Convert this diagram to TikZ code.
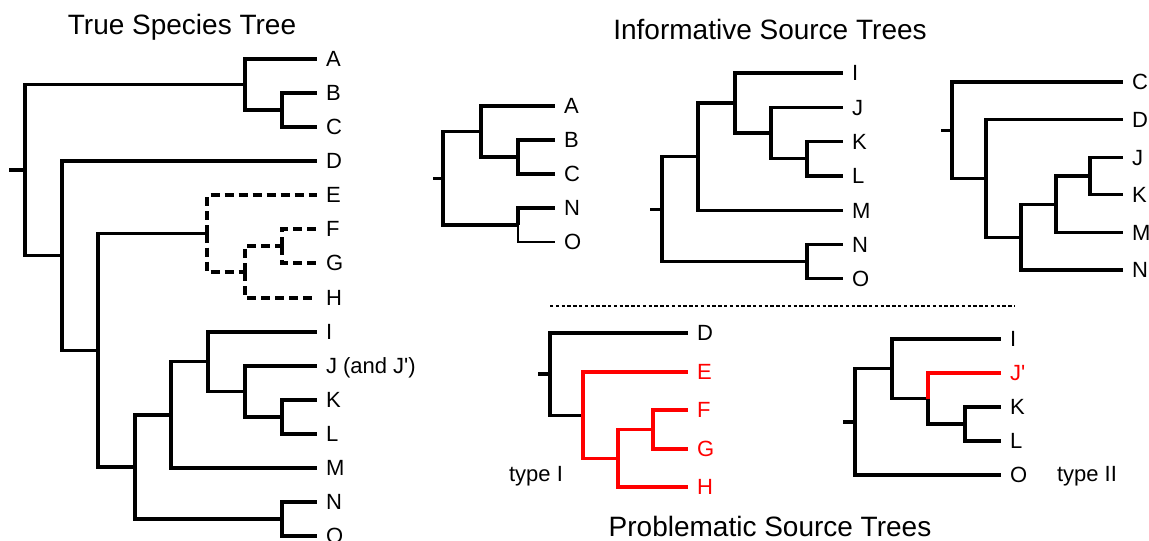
\documentclass[tikz,border=0pt]{standalone}
\usepackage{fontspec}
\setmainfont{Liberation Sans}
\usepackage{tikz}
\usetikzlibrary{calc}
\definecolor{lostred}{RGB}{255,0,0}
\tikzset{
    branch/.style = {line width=1.6pt},
    lost/.style = {branch, dash pattern=on 4.5pt off 2.5pt},
    misplaced/.style = {branch, draw=lostred},
    leaf/.style = {anchor=west, inner xsep=4.5pt, inner ysep=0pt, outer sep=0pt, text height=7.9pt, text depth=0pt, font=\fontsize{11}{13}\selectfont},
    redleaf/.style = {leaf, text=lostred},
    heading/.style = {anchor=base, inner sep=0pt, font=\fontsize{14}{16}\selectfont},
    tag/.style = {anchor=base, inner sep=0pt, font=\fontsize{11}{13}\selectfont},
    separator/.style = {line width=0.6pt, dash pattern=on 1.7pt off 1.2pt}
}

\begin{document}
\begin{tikzpicture}[x=0.5pt, y=-0.5pt]
\useasboundingbox (0,0) rectangle (1149,540);

% ---- True Species Tree (left) ----
\node[heading] (ttitle) at (182,35) {True Species Tree};
\node[leaf] (tA) at (317,59) {A};
\node[leaf] (tB) at (317,93) {B};
\node[leaf] (tC) at (317,127) {C};
\node[leaf] (tD) at (317,161) {D};
\node[leaf] (tE) at (317,195) {E};
\node[leaf] (tF) at (317,229) {F};
\node[leaf] (tG) at (317,263) {G};
\node[leaf] (tH) at (317,298) {H};
\node[leaf] (tI) at (317,332) {I};
\node[leaf] (tJ) at (317,366) {J (and J\textquotesingle)};
\node[leaf] (tK) at (317,400) {K};
\node[leaf] (tL) at (317,434) {L};
\node[leaf] (tM) at (317,468) {M};
\node[leaf] (tN) at (317,502) {N};
\node[leaf] (tO) at (317,536) {O};
\coordinate (tstub) at (9,170);
\coordinate (troot) at (25,170);
\coordinate (tabc) at (245,84.5);
\coordinate (tbc) at (282,110);
\coordinate (tdrest) at (62,255.6);
\coordinate (trest) at (98,350.2);
\coordinate (tefgh) at (207,233.5);
\coordinate (tfgh) at (245,272);
\coordinate (tfg) at (282,246);
\coordinate (tio) at (135,467);
\coordinate (tijklm) at (171,414.9);
\coordinate (tijkl) at (208,361.75);
\coordinate (tjkl) at (245,391.5);
\coordinate (tkl) at (282,417);
\coordinate (tno) at (282,519);

\draw[branch] (tstub) -- (troot);
\draw[branch] (troot) |- (tabc);
\draw[branch] (troot) |- (tdrest);
\draw[branch] (tabc) |- (tA);
\draw[branch] (tabc) |- (tbc);
\draw[branch] (tbc) |- (tB);
\draw[branch] (tbc) |- (tC);
\draw[branch] (tdrest) |- (tD);
\draw[branch] (tdrest) |- (trest);
\draw[branch] (trest) |- (tefgh);
\draw[branch] (trest) |- (tio);
\draw[lost] (tefgh) |- (tE);
\draw[lost] (tefgh) |- (tfgh);
\draw[lost] (tfgh) |- (tfg);
\draw[lost] (tfgh) |- (tH);
\draw[lost] (tfg) |- (tF);
\draw[lost] (tfg) |- (tG);
\draw[branch] (tio) |- (tijklm);
\draw[branch] (tio) |- (tno);
\draw[branch] (tijklm) |- (tijkl);
\draw[branch] (tijklm) |- (tM);
\draw[branch] (tijkl) |- (tI);
\draw[branch] (tijkl) |- (tjkl);
\draw[branch] (tjkl) |- (tJ);
\draw[branch] (tjkl) |- (tkl);
\draw[branch] (tkl) |- (tK);
\draw[branch] (tkl) |- (tL);
\draw[branch] (tno) |- (tN);
\draw[branch] (tno) |- (tO);

% ---- Informative Source Trees (top right) ----
\node[heading] (stitle) at (770,40) {Informative Source Trees};

% source tree 1
\node[leaf] (s1A) at (555,106) {A};
\node[leaf] (s1B) at (555,140) {B};
\node[leaf] (s1C) at (555,174) {C};
\node[leaf] (s1N) at (555,208) {N};
\node[leaf] (s1O) at (555,242) {O};
\coordinate (s1stub) at (433,178.25);
\coordinate (s1root) at (443,178.25);
\coordinate (s1abc) at (481,131.5);
\coordinate (s1bc) at (518,157);
\coordinate (s1no) at (518,225);
\draw[branch] (s1stub) -- (s1root);
\draw[branch] (s1root) |- (s1abc);
\draw[branch] (s1root) |- (s1no);
\draw[branch] (s1abc) |- (s1A);
\draw[branch] (s1abc) |- (s1bc);
\draw[branch] (s1bc) |- (s1B);
\draw[branch] (s1bc) |- (s1C);
\draw[branch] (s1no) |- (s1N);
\draw[line width=0.8pt] (s1no) |- (s1O);

% source tree 2
\node[leaf] (s2I) at (843,73) {I};
\node[leaf] (s2J) at (843,107.3) {J};
\node[leaf] (s2K) at (843,141.6) {K};
\node[leaf] (s2L) at (843,175.9) {L};
\node[leaf] (s2M) at (843,210.2) {M};
\node[leaf] (s2N) at (843,244.5) {N};
\node[leaf] (s2O) at (843,278.8) {O};
\coordinate (s2stub) at (650,209.1);
\coordinate (s2root) at (662,209.1);
\coordinate (s2ijklm) at (698,156.6);
\coordinate (s2ijkl) at (735,103);
\coordinate (s2jkl) at (771,133);
\coordinate (s2kl) at (807,158.75);
\coordinate (s2no) at (807,261.65);
\draw[branch] (s2stub) -- (s2root);
\draw[branch] (s2root) |- (s2ijklm);
\draw[branch] (s2root) |- (s2no);
\draw[branch] (s2ijklm) |- (s2ijkl);
\draw[branch] (s2ijklm) |- (s2M);
\draw[branch] (s2ijkl) |- (s2I);
\draw[branch] (s2ijkl) |- (s2jkl);
\draw[branch] (s2jkl) |- (s2J);
\draw[branch] (s2jkl) |- (s2kl);
\draw[branch] (s2kl) |- (s2K);
\draw[branch] (s2kl) |- (s2L);
\draw[branch] (s2no) |- (s2N);
\draw[branch] (s2no) |- (s2O);

% source tree 3
\node[leaf] (s3C) at (1123,82) {C};
\node[leaf] (s3D) at (1123,119.6) {D};
\node[leaf] (s3J) at (1123,157.2) {J};
\node[leaf] (s3K) at (1123,194.8) {K};
\node[leaf] (s3M) at (1123,232.4) {M};
\node[leaf] (s3N) at (1123,270) {N};
\coordinate (s3stub) at (941,130.2);
\coordinate (s3root) at (952,130.2);
\coordinate (s3dr) at (986,178.35);
\coordinate (s3jkmn) at (1021,237.1);
\coordinate (s3jkm) at (1056,204.2);
\coordinate (s3jk) at (1090,176);
\draw[branch] (s3stub) -- (s3root);
\draw[branch] (s3root) |- (s3C);
\draw[branch] (s3root) |- (s3dr);
\draw[branch] (s3dr) |- (s3D);
\draw[branch] (s3dr) |- (s3jkmn);
\draw[branch] (s3jkmn) |- (s3jkm);
\draw[branch] (s3jkmn) |- (s3N);
\draw[branch] (s3jkm) |- (s3jk);
\draw[branch] (s3jkm) |- (s3M);
\draw[branch] (s3jk) |- (s3J);
\draw[branch] (s3jk) |- (s3K);

% ---- Separator ----
\coordinate (sepL) at (550,306);
\coordinate (sepR) at (1015,306);
\draw[separator] (sepL) -- (sepR);

% ---- Problematic Source Trees (bottom right) ----
\node[heading] (ptitle) at (770,536) {Problematic Source Trees};

% type I
\node[tag] (p1tag) at (536,481) {type I};
\node[leaf] (p1D) at (688,333) {D};
\node[redleaf] (p1E) at (688,372) {E};
\node[redleaf] (p1F) at (688,410) {F};
\node[redleaf] (p1G) at (688,449) {G};
\node[redleaf] (p1H) at (688,487) {H};
\coordinate (p1stub) at (538,374);
\coordinate (p1root) at (550,374);
\coordinate (p1efgh) at (583,415.1);
\coordinate (p1fgh) at (618,458.25);
\coordinate (p1fg) at (653,429.5);
\draw[branch] (p1stub) -- (p1root);
\draw[branch] (p1root) |- (p1D);
\draw[branch] (p1root) |- (p1efgh);
\draw[misplaced] (p1efgh) |- (p1E);
\draw[misplaced] (p1efgh) |- (p1fgh);
\draw[misplaced] (p1fgh) |- (p1fg);
\draw[misplaced] (p1fgh) |- (p1H);
\draw[misplaced] (p1fg) |- (p1F);
\draw[misplaced] (p1fg) |- (p1G);

% type II
\node[tag] (p2tag) at (1087,481) {type II};
\node[leaf] (p2I) at (1001,339) {I};
\node[redleaf] (p2J) at (1001,373) {J\textquotesingle};
\node[leaf] (p2K) at (1001,407) {K};
\node[leaf] (p2L) at (1001,441) {L};
\node[leaf] (p2O) at (1001,475) {O};
\coordinate (p2stub) at (843,421.9);
\coordinate (p2root) at (855,421.9);
\coordinate (p2ijkl) at (892,368.75);
\coordinate (p2jkl) at (928,398.5);
\coordinate (p2kl) at (965,424);
\draw[branch] (p2stub) -- (p2root);
\draw[branch] (p2root) |- (p2ijkl);
\draw[branch] (p2root) |- (p2O);
\draw[branch] (p2ijkl) |- (p2I);
\draw[branch] (p2ijkl) |- (p2jkl);
\draw[misplaced] (p2jkl) |- (p2J);
\draw[branch] (p2jkl) |- (p2kl);
\draw[branch] (p2kl) |- (p2K);
\draw[branch] (p2kl) |- (p2L);

\end{tikzpicture}
\end{document}
